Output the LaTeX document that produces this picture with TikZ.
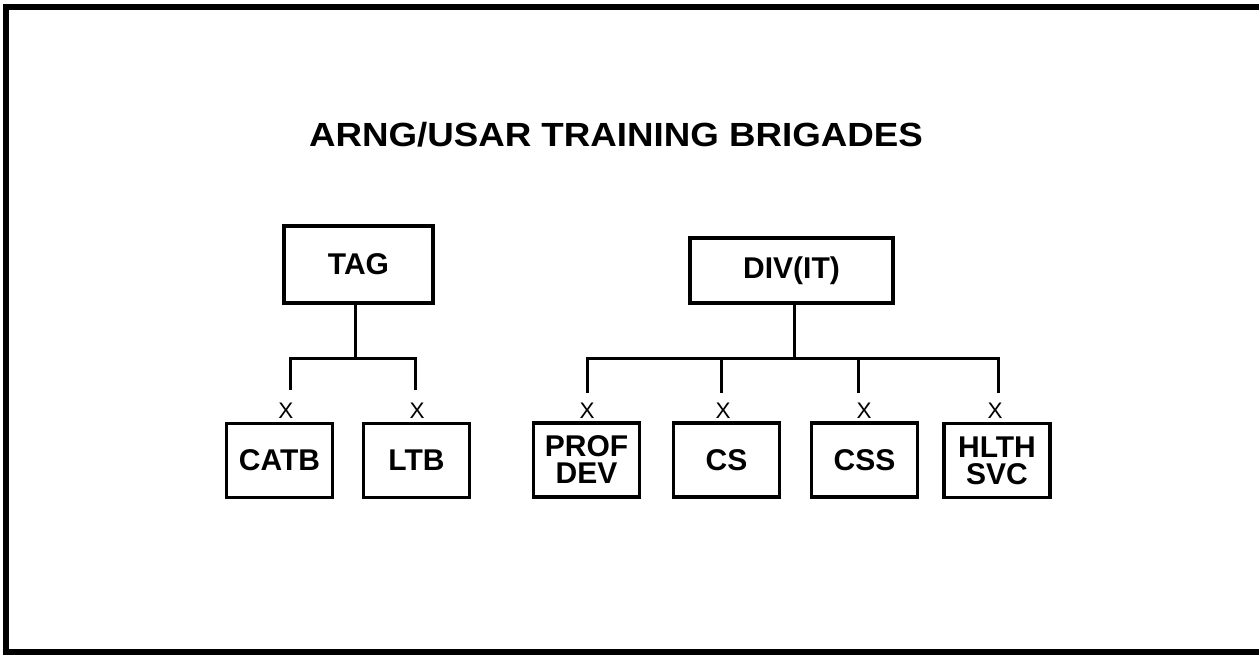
\documentclass[tikz,border=0pt]{standalone}
\usepackage{fontspec}
\setmainfont{Liberation Sans}
\begin{document}
\begin{tikzpicture}[x=1pt,y=-1pt,
  box/.style={draw,line width=3.2pt,inner sep=0pt,align=center,font=\fontsize{30}{27}\selectfont\bfseries},
  child/.style={box,minimum width=106pt,minimum height=74pt},
  conn/.style={line width=3pt},
  xlab/.style={inner sep=0pt,font=\fontsize{22.5}{22.5}\selectfont}]
\useasboundingbox (0,0) rectangle (1259,655);
\draw[line width=6pt] (1259,7) -- (6,7) -- (6,652) -- (1259,652);
% title
\node[anchor=base,inner sep=0pt,font=\fontsize{33.5}{40}\selectfont\bfseries] (title) at (616,147)
  {\scalebox{1.096}[1]{ARNG/USAR TRAINING BRIGADES}};
% top boxes
\node[box,minimum width=149pt,minimum height=77pt] (tag) at (358.5,264.5) {TAG};
\node[box,minimum width=203pt,minimum height=65pt] (div) at (791.5,270.5) {DIV(IT)};
% children
\node[child] (catb) at (279.5,460.5) {CATB};
\node[child] (ltb)  at (416.5,460.5) {LTB};
\node[child] (prof) at (586.5,460) {PROF\\DEV};
\node[child] (cs)   at (726.5,460) {CS};
\node[child] (css)  at (864.5,460) {CSS};
\node[child] (hlth) at (997,460.5) {HLTH\\SVC};
% X labels
\node[xlab] (x1) at (286,411) {X};
\node[xlab] (x2) at (417,411) {X};
\node[xlab] (x3) at (587,411) {X};
\node[xlab] (x4) at (723,411) {X};
\node[xlab] (x5) at (864,411) {X};
\node[xlab] (x6) at (995,411) {X};
% TAG connectors
\coordinate (tj) at (355,358);
\coordinate (t1) at (290,390);
\coordinate (t2) at (415,390);
\draw[conn] (tag.south -| tj) -- (tj);
\draw[conn] (t1) -- (t1 |- tj) -- (t2 |- tj) -- (t2);
% DIV connectors
\coordinate (dj) at (794,358);
\coordinate (d1) at (587,393);
\coordinate (d2) at (721,393);
\coordinate (d3) at (858,393);
\coordinate (d4) at (998,393);
\draw[conn] (div.south -| dj) -- (dj);
\draw[conn] (d1) -- (d1 |- dj) -- (d4 |- dj) -- (d4);
\draw[conn] (d2 |- dj) -- (d2);
\draw[conn] (d3 |- dj) -- (d3);
\end{tikzpicture}
\end{document}
